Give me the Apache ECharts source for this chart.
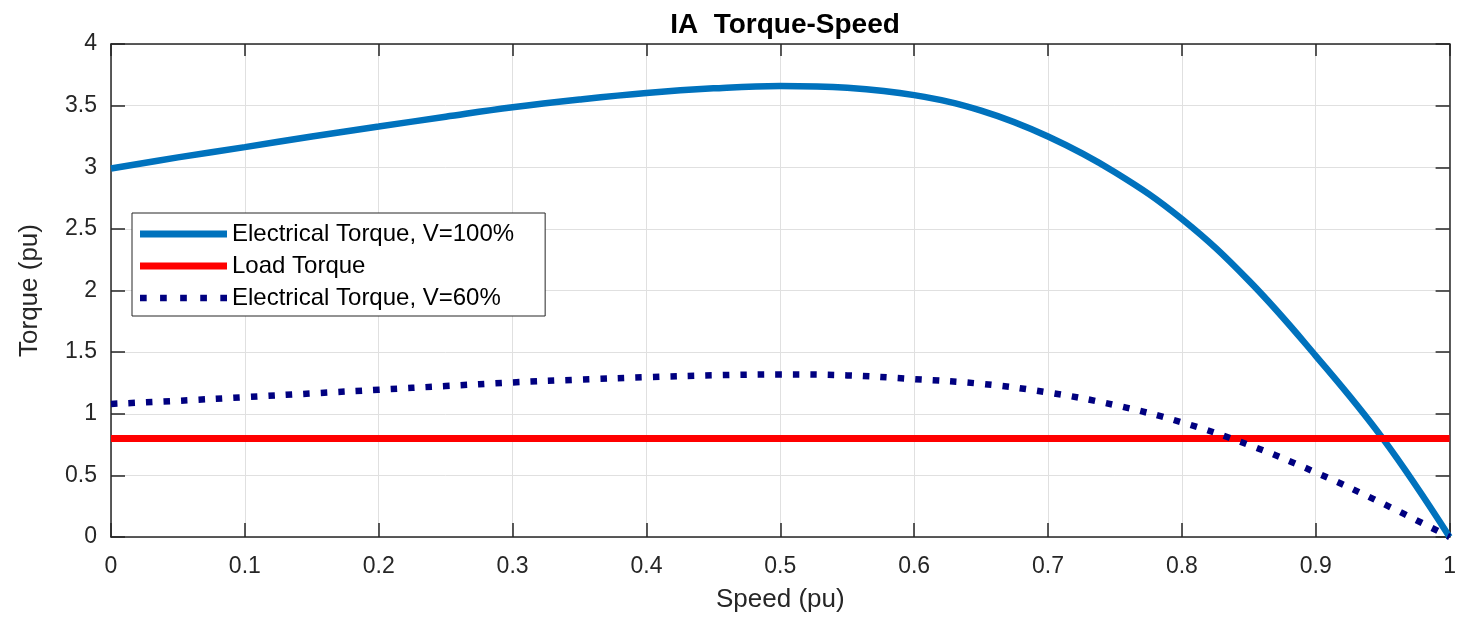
<!DOCTYPE html>
<html>
<head>
    <meta charset="utf-8" />
    <title>IA Torque-Speed</title>
    <style type="text/css">
        body, html {
            margin: 0;
            padding: 0;
            background: #fff;
        }

        #main {
            width: 1459px;
            height: 622px;
        }
    </style>
    <script type="text/javascript" src="https://cdn.jsdelivr.net/npm/echarts@6/dist/echarts.min.js"></script>
</head>
<body>
    <div id="main"></div>
    <script type="text/javascript">
        // speed (pu) samples
        var speed = [0, 0.05, 0.1, 0.15, 0.2, 0.25, 0.3, 0.35, 0.4, 0.45, 0.5, 0.55, 0.6, 0.65, 0.7, 0.75, 0.8, 0.85, 0.9, 0.95, 1];
        // electrical torque, full voltage
        var torque100 = [2.99, 3.08, 3.163, 3.25, 3.33, 3.41, 3.487, 3.55, 3.603, 3.64, 3.66, 3.645, 3.585, 3.46, 3.25, 2.96, 2.58, 2.08, 1.47, 0.80, 0];
        // electrical torque, 60% voltage
        var torque60 = [1.08, 1.105, 1.135, 1.165, 1.195, 1.225, 1.254, 1.277, 1.297, 1.312, 1.319, 1.311, 1.281, 1.243, 1.173, 1.070, 0.93, 0.747, 0.524, 0.272, 0];
        // load torque line
        var loadSpeed = [0, 1];
        var loadTorque = [0.8, 0.8];

        var names = ['Electrical Torque, V=100%', 'Load Torque', 'Electrical Torque, V=60%'];

        function pairs(xs, ys) {
            var out = [];
            for (var i = 0; i < xs.length; i++) {
                out.push([xs[i], ys[i]]);
            }
            return out;
        }

        var axisColor = '#262626';
        var font = 'Arial, "Liberation Sans", Helvetica, sans-serif';
        // five little squares for the dotted legend sample
        var dotIcon = 'path://M0,0h6v6h-6z M18,0h6v6h-6z M36,0h6v6h-6z M54,0h6v6h-6z M72,0h6v6h-6z';

        var chart = echarts.init(document.getElementById('main'));

        var option = {
            backgroundColor: '#fff',
            animation: false,
            title: {
                text: 'IA  Torque-Speed',
                left: 780,
                top: 6,
                textAlign: 'center',
                textStyle: { fontFamily: font, fontSize: 28, fontWeight: 'bold', color: '#000' }
            },
            legend: {
                orient: 'vertical',
                left: 132,
                top: 213,
                padding: [9, 31, 6, 8],
                itemWidth: 87,
                itemHeight: 7,
                itemGap: 8,
                backgroundColor: '#fff',
                borderColor: axisColor,
                borderWidth: 1,
                borderRadius: 0,
                textStyle: { fontFamily: font, fontSize: 24, color: '#000' },
                data: [
                    { name: names[0], icon: 'rect' },
                    { name: names[1], icon: 'rect' },
                    { name: names[2], icon: dotIcon }
                ]
            },
            grid: {
                left: 111,
                right: 9,
                top: 44,
                bottom: 85
            },
            xAxis: [{
                type: 'value',
                min: 0,
                max: 1,
                interval: 0.1,
                name: 'Speed (pu)',
                nameLocation: 'middle',
                nameGap: 50,
                nameTextStyle: { fontFamily: font, fontSize: 26, color: axisColor },
                axisLine: { show: true, onZero: false, lineStyle: { color: axisColor, width: 1.5 } },
                axisTick: { show: true, inside: true, length: 14, lineStyle: { color: axisColor, width: 1.5 } },
                axisLabel: { fontFamily: font, fontSize: 23, color: axisColor, margin: 18 },
                splitLine: { show: true, lineStyle: { color: '#e0e0e0', width: 1 } }
            }, {
                type: 'value',
                position: 'top',
                min: 0,
                max: 1,
                interval: 0.1,
                axisLine: { show: true, onZero: false, lineStyle: { color: axisColor, width: 1.5 } },
                axisTick: { show: true, inside: true, length: 12, lineStyle: { color: axisColor, width: 1.5 } },
                axisLabel: { show: false },
                splitLine: { show: false }
            }],
            yAxis: [{
                type: 'value',
                min: 0,
                max: 4,
                interval: 0.5,
                name: 'Torque (pu)',
                nameLocation: 'middle',
                nameGap: 68,
                nameTextStyle: { fontFamily: font, fontSize: 26, color: axisColor },
                axisLine: { show: true, onZero: false, lineStyle: { color: axisColor, width: 1.5 } },
                axisTick: { show: true, inside: true, length: 14, lineStyle: { color: axisColor, width: 1.5 } },
                axisLabel: { fontFamily: font, fontSize: 23, color: axisColor, margin: 14 },
                splitLine: { show: true, lineStyle: { color: '#e0e0e0', width: 1 } }
            }, {
                type: 'value',
                position: 'right',
                min: 0,
                max: 4,
                interval: 0.5,
                axisLine: { show: true, onZero: false, lineStyle: { color: axisColor, width: 1.5 } },
                axisTick: { show: true, inside: true, length: 14, lineStyle: { color: axisColor, width: 1.5 } },
                axisLabel: { show: false },
                splitLine: { show: false }
            }],
            series: [{
                name: names[0],
                type: 'line',
                data: pairs(speed, torque100),
                smooth: 0.4,
                showSymbol: false,
                symbol: 'none',
                clip: false,
                color: '#0072BD',
                lineStyle: { color: '#0072BD', width: 6.5 }
            }, {
                name: names[1],
                type: 'line',
                data: pairs(loadSpeed, loadTorque),
                showSymbol: false,
                symbol: 'none',
                clip: false,
                color: '#FF0000',
                lineStyle: { color: '#FF0000', width: 7, cap: 'butt' }
            }, {
                name: names[2],
                type: 'line',
                data: pairs(speed, torque60),
                smooth: 0.4,
                showSymbol: false,
                symbol: 'none',
                clip: false,
                color: '#000080',
                lineStyle: { color: '#000080', width: 6.5, type: [6.5, 11], cap: 'butt' }
            }]
        };

        chart.setOption(option);
    </script>
</body>
</html>
